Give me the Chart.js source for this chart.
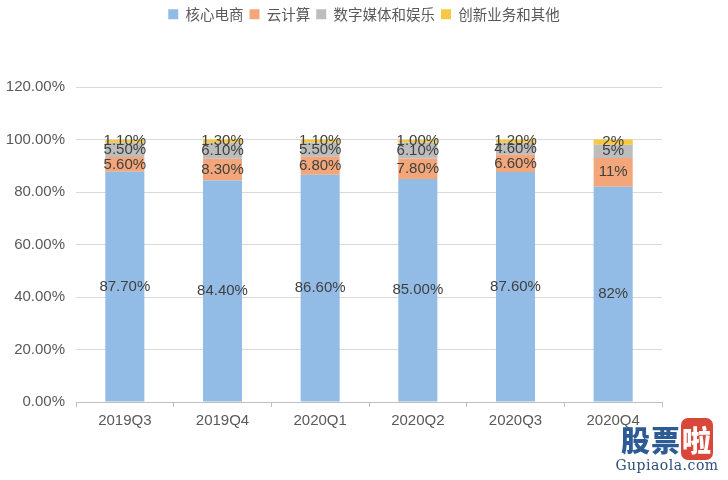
<!DOCTYPE html>
<html>
<head>
<meta charset="utf-8">
<script src="https://cdn.jsdelivr.net/npm/chart.js@4.4.0/dist/chart.umd.min.js"></script>
<style>
  body { margin: 0; background: #fff; }
  .wrap { position: relative; width: 728px; height: 480px; }
  .mark { position: absolute; left: 608px; top: 424px; width: 118px; text-align: center;
          font-family: "Noto Sans CJK SC", sans-serif; }
  .mark .big { font-size: 29px; font-weight: 900; color: #2d5b95; line-height: 31px; letter-spacing: 1px; }
  .mark .big span { background: #d9473b; color: #fff; border-radius: 7px; padding: 0 1px; }
  .mark .small { font-family: "DejaVu Serif", serif; font-size: 14px; color: #2d4e7a; line-height: 20px; letter-spacing: 0.5px; }
</style>
</head>
<body>
<div class="wrap">
  <canvas id="shareChart" width="728" height="480"></canvas>
  <div class="mark"><div class="big">股票<span>啦</span></div><div class="small">Gupiaola.com</div></div>
</div>
<script>
const quarters = ['2019Q3', '2019Q4', '2020Q1', '2020Q2', '2020Q3', '2020Q4'];
const coreCommerce = [87.7, 84.4, 86.6, 85.0, 87.6, 82];
const cloudComputing = [5.6, 8.3, 6.8, 7.8, 6.6, 11];
const digitalMedia = [5.5, 6.1, 5.5, 6.1, 4.6, 5];
const innovation = [1.1, 1.3, 1.1, 1.0, 1.2, 2];
// decimals shown in the bar labels, per quarter
const labelDecimals = [2, 2, 2, 2, 2, 0];
const yTicks = [0, 20, 40, 60, 80, 100, 120];

const fontFamily = '"Liberation Sans", Arial, sans-serif';
const cjkFont = '"Noto Sans CJK SC", sans-serif';

// push the plot area down under the legend, and center the legend on the whole canvas
const legendSpace = {
  id: 'legendSpace',
  beforeInit(chart) {
    const origFit = chart.legend.fit;
    chart.legend.fit = function () {
      origFit.bind(chart.legend)();
      this.height = 86;
    };
  },
  afterLayout(chart) {
    chart.legend.left = 0;
    chart.legend.right = chart.width;
    chart.legend.width = chart.width;
  }
};

// value labels in the middle of each segment
const barLabels = {
  id: 'barLabels',
  afterDatasetsDraw(chart) {
    const ctx = chart.ctx;
    ctx.save();
    ctx.font = '15px ' + fontFamily;
    ctx.fillStyle = '#404040';
    ctx.textAlign = 'center';
    ctx.textBaseline = 'middle';
    chart.data.datasets.forEach((ds, i) => {
      const meta = chart.getDatasetMeta(i);
      meta.data.forEach((bar, j) => {
        const txt = ds.data[j].toFixed(labelDecimals[j]) + '%';
        ctx.fillText(txt, bar.x, (bar.y + bar.base) / 2);
      });
    });
    ctx.restore();
  }
};

new Chart(document.getElementById('shareChart'), {
  type: 'bar',
  data: {
    labels: quarters,
    datasets: [
      { label: '核心电商', data: coreCommerce, backgroundColor: '#92bce6' },
      { label: '云计算', data: cloudComputing, backgroundColor: '#f2a679' },
      { label: '数字媒体和娱乐', data: digitalMedia, backgroundColor: '#bdbdbd' },
      { label: '创新业务和其他', data: innovation, backgroundColor: '#f6c843' },
    ],
  },
  options: {
    responsive: false,
    animation: false,
    layout: { padding: { left: 0, right: 66, top: 1, bottom: 0 } },
    datasets: { bar: { categoryPercentage: 1, barPercentage: 0.4, borderWidth: 0 } },
    scales: {
      x: {
        stacked: true,
        afterFit(scale) { scale.height = 78; },
        border: { display: true, color: '#bfbfbf' },
        grid: { drawOnChartArea: false, tickLength: 5, color: '#bfbfbf', offset: true },
        ticks: { color: '#595959', padding: 5, font: { family: fontFamily, size: 15 } },
      },
      y: {
        stacked: true,
        min: 0,
        max: 120,
        afterFit(scale) { scale.width = 76; },
        afterBuildTicks(scale) { scale.ticks = yTicks.map(v => ({ value: v })); },
        border: { display: false },
        grid: { color: '#d9d9d9', drawTicks: false },
        ticks: {
          color: '#595959',
          padding: 11,
          font: { family: fontFamily, size: 15 },
          callback: v => v.toFixed(2) + '%',
        },
      },
    },
    plugins: {
      legend: {
        position: 'top',
        labels: {
          boxWidth: 10,
          boxHeight: 10,
          padding: 6,
          color: '#595959',
          font: { family: cjkFont, size: 14.5 },
        },
      },
      tooltip: { enabled: false },
    },
  },
  plugins: [legendSpace, barLabels],
});
</script>
</body>
</html>
